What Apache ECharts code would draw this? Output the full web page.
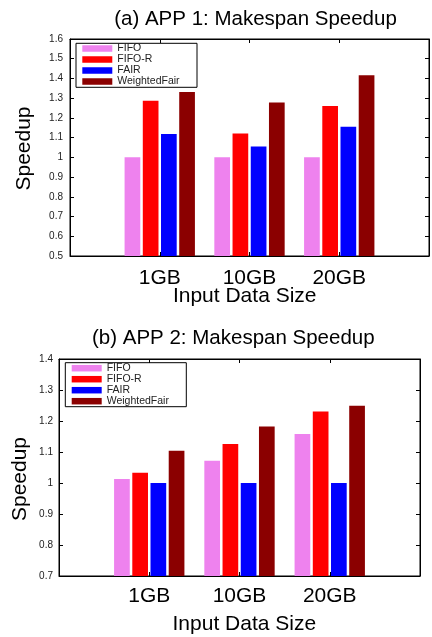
<!DOCTYPE html>
<html>
<head>
<meta charset="utf-8">
<script src="https://cdn.jsdelivr.net/npm/echarts@6/dist/echarts.min.js"></script>
<style>
html,body{margin:0;padding:0;background:#fff;}
#chart{width:432px;height:637px;}
</style>
</head>
<body>
<div id="chart"></div>
<script>
var categories = ['1GB', '10GB', '20GB'];
var seriesNames = ['FIFO', 'FIFO-R', 'FAIR', 'WeightedFair'];
var seriesColors = ['#ee82ee', '#ff0000', '#0000ff', '#8b0000'];

// APP 1 speedups
var app1FIFO = [1.0, 1.0, 1.0];
var app1FIFOR = [1.287, 1.121, 1.26];
var app1FAIR = [1.118, 1.055, 1.155];
var app1Weighted = [1.331, 1.278, 1.416];

// APP 2 speedups
var app2FIFO = [1.013, 1.072, 1.158];
var app2FIFOR = [1.033, 1.126, 1.231];
var app2FAIR = [1.0, 1.0, 1.0];
var app2Weighted = [1.104, 1.182, 1.249];

// axis ranges
var app1YMin = 0.5, app1YMax = 1.6, app1YStep = 0.1;
var app2YMin = 0.7, app2YMax = 1.4, app2YStep = 0.1;

var titleA = '(a) APP 1: Makespan Speedup';
var titleB = '(b) APP 2: Makespan Speedup';
var yName = 'Speedup';
var xName = 'Input Data Size';

var FONT = '"Liberation Sans", Arial, Helvetica, sans-serif';

// padded category list: empty slot on each side
var paddedCats = [''].concat(categories).concat(['']);
function pad(arr) { return ['-'].concat(arr).concat(['-']); }

var chart = echarts.init(document.getElementById('chart'), null, {renderer: 'canvas'});

function xAxes(gridIndex, margin) {
  return [
    {
      type: 'category', gridIndex: gridIndex, data: paddedCats, boundaryGap: false,
      position: 'bottom',
      axisLine: {show: true, lineStyle: {color: '#000', width: 1}},
      axisTick: {show: true, inside: true, length: 4, lineStyle: {color: '#000'}},
      axisLabel: {show: true, interval: 0, margin: margin, fontSize: 21, color: '#000', fontFamily: FONT},
      splitLine: {show: false}
    },
    {
      type: 'category', gridIndex: gridIndex, data: paddedCats, boundaryGap: false,
      position: 'top',
      axisLine: {show: true, lineStyle: {color: '#000', width: 1}},
      axisTick: {show: true, inside: true, length: 4, lineStyle: {color: '#000'}},
      axisLabel: {show: false},
      splitLine: {show: false}
    }
  ];
}

function yAxes(gridIndex, mn, mx, step, margin) {
  return [
    {
      type: 'value', gridIndex: gridIndex, min: mn, max: mx, interval: step, position: 'left',
      axisLine: {show: true, lineStyle: {color: '#000', width: 1}},
      axisTick: {show: true, inside: true, length: 4, lineStyle: {color: '#000'}},
      axisLabel: {show: true, margin: margin, fontSize: 10, color: '#222', fontFamily: FONT,
        formatter: function (v) { return String(Math.round(v * 10) / 10); }},
      splitLine: {show: false}
    },
    {
      type: 'value', gridIndex: gridIndex, min: mn, max: mx, interval: step, position: 'right',
      axisLine: {show: true, lineStyle: {color: '#000', width: 1}},
      axisTick: {show: true, inside: true, length: 4, lineStyle: {color: '#000'}},
      axisLabel: {show: false},
      splitLine: {show: false}
    }
  ];
}

function barSeries(name, color, data, xi, yi) {
  return {
    type: 'bar', name: name, xAxisIndex: xi, yAxisIndex: yi,
    data: pad(data), barWidth: 15.7, barGap: '16%',
    itemStyle: {color: color},
    emphasis: {disabled: true},
    animation: false
  };
}

function legendAt(left, top) {
  return {
    orient: 'vertical', left: left, top: top, padding: 0, itemGap: 0,
    itemWidth: 30, itemHeight: 6.5, icon: 'rect',
    data: seriesNames,
    textStyle: {fontSize: 10.5, lineHeight: 11, color: '#222', fontFamily: FONT},
    selectedMode: false
  };
}

function txt(text, x, y, size, rot) {
  return {
    type: 'text', x: x, y: y, rotation: rot || 0, silent: true,
    style: {
      text: text, fill: '#000', font: size + 'px ' + FONT,
      fontSize: size, fontFamily: FONT,
      align: 'center', verticalAlign: 'middle',
      textAlign: 'center', textVerticalAlign: 'middle'
    }
  };
}

var app1 = [app1FIFO, app1FIFOR, app1FAIR, app1Weighted];
var app2 = [app2FIFO, app2FIFOR, app2FAIR, app2Weighted];
var series = [];
for (var i = 0; i < 4; i++) series.push(barSeries(seriesNames[i], seriesColors[i], app1[i], 0, 0));
for (var j = 0; j < 4; j++) series.push(barSeries(seriesNames[j], seriesColors[j], app2[j], 2, 2));

var option = {
  backgroundColor: '#fff',
  animation: false,
  grid: [
    {left: 70, top: 39, width: 361, height: 217, show: true, borderColor: '#000', borderWidth: 1, containLabel: false},
    {left: 59, top: 359, width: 361, height: 217, show: true, borderColor: '#000', borderWidth: 1, containLabel: false}
  ],
  xAxis: xAxes(0, 12).concat(xAxes(1, 10)),
  yAxis: yAxes(0, app1YMin, app1YMax, app1YStep, 7).concat(yAxes(1, app2YMin, app2YMax, app2YStep, 6)),
  legend: [legendAt(82.3, 43), legendAt(71.7, 362.7)],
  series: series,
  graphic: [
    {type: 'rect', shape: {x: 76, y: 43.3, width: 121, height: 44}, style: {fill: 'none', stroke: '#000', lineWidth: 1}, silent: true},
    {type: 'rect', shape: {x: 65.3, y: 362.7, width: 121, height: 44}, style: {fill: 'none', stroke: '#000', lineWidth: 1}, silent: true},
    txt(titleA, 255.5, 19.5, 20.5),
    txt(titleB, 233.3, 338.3, 20.5),
    txt(yName, 24, 148.5, 21, Math.PI / 2),
    txt(yName, 20, 479, 21, Math.PI / 2),
    txt(xName, 244.7, 295.8, 21),
    txt(xName, 244.3, 624.7, 21)
  ]
};
chart.setOption(option);
</script>
</body>
</html>
